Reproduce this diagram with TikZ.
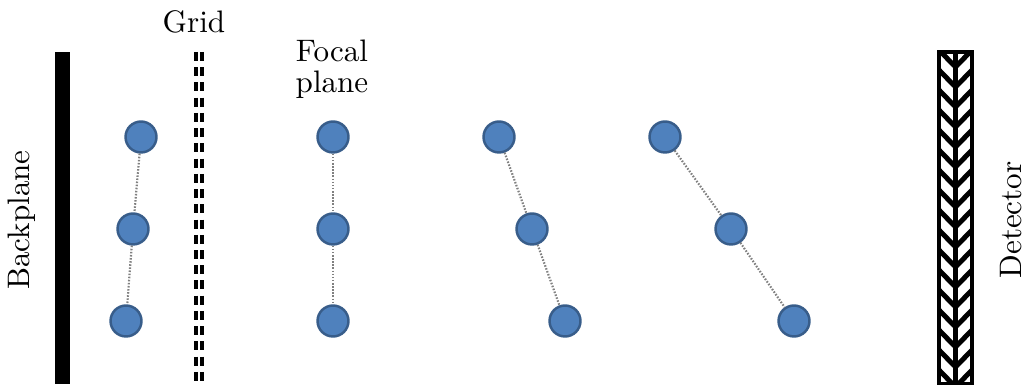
\documentclass[tikz,border=0pt]{standalone}
\usetikzlibrary{positioning}
\definecolor{ballfill}{RGB}{79,129,189}
\definecolor{balledge}{RGB}{56,93,138}
\begin{document}
\begin{tikzpicture}[x=0.0113cm,y=-0.0113cm,
    ball/.style={circle,fill=ballfill,draw=balledge,line width=0.8pt,minimum size=0.35cm,inner sep=0pt},
    link/.style={gray,line width=0.7pt,dash pattern=on 0.5pt off 0.5pt},
    gridline/.style={line width=1pt,dash pattern=on 2.9pt off 2pt},
    hatch/.style={line width=1.6pt}]
  \useasboundingbox (0,0) rectangle (1023,385);
  % backplane
  \fill[black] (55,52) rectangle (70,384);
  \node[rotate=90] (backplane) at (22,220) {Backplane};
  % grid
  \draw[gridline] (196,52) -- (196,385);
  \draw[gridline] (202,52) -- (202,385);
  \node (grid) at (194,22) {Grid};
  % focal plane label
  \node[align=center] (focal) at (332,69) {Focal\\[-2pt]plane};
  % the balls, one column at a time
  \node[ball] (a1) at (141,137) {};
  \node[ball] (a2) at (133,229) {};
  \node[ball] (a3) at (126,321) {};
  \node[ball] (b1) at (333,137) {};
  \node[ball] (b2) at (333,229) {};
  \node[ball] (b3) at (333,321) {};
  \node[ball] (c1) at (499,137) {};
  \node[ball] (c2) at (532,229) {};
  \node[ball] (c3) at (565,321) {};
  \node[ball] (d1) at (665,137) {};
  \node[ball] (d2) at (731,229) {};
  \node[ball] (d3) at (794,321) {};
  % dotted links
  \draw[link] (a1) -- (a2);
  \draw[link] (a2) -- (a3);
  \draw[link] (b1) -- (b2);
  \draw[link] (b2) -- (b3);
  \draw[link] (c1) -- (c2);
  \draw[link] (c2) -- (c3);
  \draw[link] (d1) -- (d2);
  \draw[link] (d2) -- (d3);
  % detector, two hatched strips
  \begin{scope}
    \clip (939,52) rectangle (954.5,384);
    \foreach \y in {30,50,...,400}
      \draw[hatch] (939,\y) -- (954.5,\y+16);
  \end{scope}
  \begin{scope}
    \clip (956.5,52) rectangle (972,384);
    \foreach \y in {30,50,...,400}
      \draw[hatch] (972,\y) -- (956.5,\y+16);
  \end{scope}
  \draw[line width=1pt] (939,52) rectangle (954.5,384);
  \draw[line width=1pt] (956.5,52) rectangle (972,384);
  \node[rotate=90] (detector) at (1011,220) {Detector};
\end{tikzpicture}
\end{document}
